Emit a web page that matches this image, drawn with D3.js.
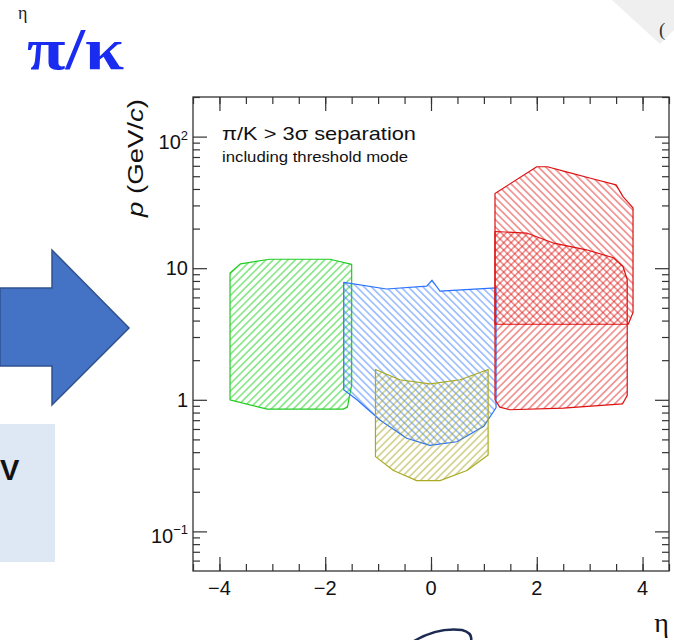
<!DOCTYPE html>
<html lang="en">
<head>
<meta charset="UTF-8">
<title>pi/K separation</title>
<script src="https://d3js.org/d3.v7.min.js"></script>
<style>
    body { margin: 0; background: #fff; }
    svg { display: block; font-family: "Liberation Sans", Arial, sans-serif; }
</style>
</head>
<body>
<svg id="chart" width="674" height="640"></svg>
<script>
    // regions: [eta, p (GeV/c)]
    const greenRegion = [[-3.80, 9.2], [-3.60, 10.8], [-3.05, 11.7], [-1.91, 11.7], [-1.50, 10.7],
        [-1.50, 1.3], [-1.58, 0.88], [-1.66, 0.85], [-3.10, 0.85], [-3.80, 1.0]];
    const blueRegion = [[-1.65, 7.8], [-0.84, 6.95], [-0.08, 7.3], [0.02, 8.1], [0.17, 6.7], [1.23, 7.1],
        [1.23, 0.87], [1.0, 0.63], [0.49, 0.48], [-0.02, 0.45], [-0.46, 0.51], [-0.96, 0.70],
        [-1.40, 1.0], [-1.65, 1.19]];
    const oliveRegion = [[-1.05, 1.7], [-0.59, 1.42], [-0.02, 1.32], [0.55, 1.42], [1.08, 1.7],
        [1.08, 0.38], [0.68, 0.29], [0.17, 0.243], [-0.27, 0.243], [-0.71, 0.29], [-1.05, 0.37]];
    const redLowRegion = [[1.21, 19.0], [1.81, 18.5], [2.30, 15.6], [2.94, 13.8], [3.45, 12.0],
        [3.63, 10.3], [3.71, 8.2], [3.71, 1.08], [3.62, 0.93], [2.50, 0.865], [1.49, 0.84],
        [1.30, 0.88], [1.21, 1.0]];
    const redHighRegion = [[1.21, 37], [2.0, 59], [2.2, 59], [2.56, 54], [3.0, 48.5], [3.5, 43],
        [3.63, 35], [3.82, 28.7], [3.82, 4.6], [3.73, 3.75], [1.21, 3.75]];

    const xMajor = [-4, -2, 0, 2, 4];
    const xMinor = d3.range(-4.5, 4.51, 0.5);
    const yMajor = [0.1, 1, 10, 100];
    const yLabels = [["10", "\u22121"], ["1", ""], ["10", ""], ["10", "2"]];
    const yMinor = [0.06, 0.07, 0.08, 0.09, 0.2, 0.3, 0.4, 0.5, 0.6, 0.7, 0.8, 0.9,
        2, 3, 4, 5, 6, 7, 8, 9, 20, 30, 40, 50, 60, 70, 80, 90, 200];

    const plotLeft = 193, plotRight = 669, plotTop = 97, plotBottom = 571;
    const x = d3.scaleLinear().domain([-4.5, 4.5]).range([plotLeft, plotRight]);
    const y = d3.scaleLog().domain([0.05, 200]).range([plotBottom, plotTop]);

    const svg = d3.select("#chart");
    svg.append("rect").attr("width", 674).attr("height", 640).attr("fill", "#fff");

    // --- slide decorations around the plot ---
    svg.append("polygon").attr("points", "612,0 660,44 674,30 674,0").attr("fill", "#efefef");
    svg.append("text").attr("x", 659).attr("y", 36).attr("font-size", 19).attr("fill", "#333")
       .attr("font-family", "Liberation Serif").text("(");
    svg.append("text").attr("x", 18).attr("y", 19).attr("font-size", 18).attr("fill", "#222")
       .attr("font-family", "Liberation Serif").text("\u03b7");
    svg.append("text").attr("x", 27).attr("y", 69).attr("font-size", 60).attr("font-weight", "bold")
       .attr("fill", "#1a2cf0").attr("font-family", "Liberation Serif")
       .attr("textLength", 97).attr("lengthAdjust", "spacingAndGlyphs").text("\u03c0/\u03ba");

    svg.append("polygon")
       .attr("points", "0,288 52,288 52,250 129,328 52,405 52,366 0,366")
       .attr("fill", "#4472c4").attr("stroke", "#2f528f").attr("stroke-width", 1.5);
    svg.append("rect").attr("x", 0).attr("y", 424).attr("width", 55).attr("height", 138).attr("fill", "#dee8f4");
    svg.append("text").attr("x", 0).attr("y", 480).attr("font-size", 29)
       .attr("font-weight", "bold").attr("fill", "#111").text("V");

    svg.append("path").attr("d", "M414,641 Q438,627 462,630 Q473,633 471,641")
       .attr("fill", "none").attr("stroke", "#1c2b4f").attr("stroke-width", 2.5);

    // --- hatch patterns ---
    const defs = svg.append("defs");
    function hatch(id, color, angle) {
        const p = defs.append("pattern").attr("id", id)
            .attr("patternUnits", "userSpaceOnUse").attr("width", 5.2).attr("height", 5.2)
            .attr("patternTransform", `rotate(${angle})`);
        p.append("line").attr("x1", 2.6).attr("y1", 0).attr("x2", 2.6).attr("y2", 5.2)
            .attr("stroke", color).attr("stroke-width", 1.1).attr("stroke-opacity", 0.7);
    }
    hatch("hGreen", "#00cc00", 45);
    hatch("hBlue", "#2a72ff", -45);
    hatch("hOlive", "#9e9e10", 45);
    hatch("hRedLow", "#e01010", 45);
    hatch("hRedHigh", "#e01010", -45);

    const area = d3.line().x(d => x(d[0])).y(d => y(d[1])).curve(d3.curveLinearClosed);
    const regions = [
        { pts: greenRegion, fill: "hGreen", stroke: "#22cc22" },
        { pts: blueRegion, fill: "hBlue", stroke: "#2a72ff" },
        { pts: oliveRegion, fill: "hOlive", stroke: "#aaaa22" },
        { pts: redLowRegion, fill: "hRedLow", stroke: "#dd1111" },
        { pts: redHighRegion, fill: "hRedHigh", stroke: "#dd1111" }
    ];
    svg.append("g").selectAll("path").data(regions).join("path")
       .attr("d", d => area(d.pts))
       .attr("fill", d => `url(#${d.fill})`)
       .attr("stroke", d => d.stroke).attr("stroke-width", 1.2).attr("stroke-linejoin", "round");

    // --- frame and axes ---
    const axisColor = "#333";
    function styleAxis(g) {
        g.select(".domain").remove();
        g.selectAll("line").attr("stroke", axisColor).attr("stroke-width", 1.2);
        g.selectAll("text").remove();
    }
    svg.append("g").attr("transform", `translate(0,${plotBottom})`)
       .call(d3.axisBottom(x).tickValues(xMinor).tickSize(-7)).call(styleAxis);
    svg.append("g").attr("transform", `translate(0,${plotBottom})`)
       .call(d3.axisBottom(x).tickValues(xMajor).tickSize(-14)).call(styleAxis);
    svg.append("g").attr("transform", `translate(0,${plotTop})`)
       .call(d3.axisTop(x).tickValues(xMinor).tickSize(-7)).call(styleAxis);
    svg.append("g").attr("transform", `translate(0,${plotTop})`)
       .call(d3.axisTop(x).tickValues(xMajor).tickSize(-14)).call(styleAxis);
    svg.append("g").attr("transform", `translate(${plotLeft},0)`)
       .call(d3.axisLeft(y).tickValues(yMinor).tickSize(-7)).call(styleAxis);
    svg.append("g").attr("transform", `translate(${plotLeft},0)`)
       .call(d3.axisLeft(y).tickValues(yMajor).tickSize(-14)).call(styleAxis);
    svg.append("g").attr("transform", `translate(${plotRight},0)`)
       .call(d3.axisRight(y).tickValues(yMinor).tickSize(-7)).call(styleAxis);
    svg.append("g").attr("transform", `translate(${plotRight},0)`)
       .call(d3.axisRight(y).tickValues(yMajor).tickSize(-14)).call(styleAxis);

    svg.append("rect").attr("x", plotLeft).attr("y", plotTop)
       .attr("width", plotRight - plotLeft).attr("height", plotBottom - plotTop)
       .attr("fill", "none").attr("stroke", axisColor).attr("stroke-width", 1.3);

    // tick labels
    svg.append("g").selectAll("text").data(xMajor).join("text")
       .attr("x", d => x(d)).attr("y", plotBottom + 24).attr("text-anchor", "middle")
       .attr("font-size", 20).attr("fill", "#111")
       .text(d => d < 0 ? "\u2212" + Math.abs(d) : d);

    const yl = svg.append("g").selectAll("text").data(yMajor).join("text")
       .attr("x", 188).attr("text-anchor", "end")
       .attr("y", (d, i) => y(d) + (yLabels[i][1] ? 12 : 7))
       .attr("font-size", 20).attr("fill", "#111");
    yl.append("tspan").text((d, i) => yLabels[i][0]);
    yl.append("tspan").attr("font-size", 13).attr("dy", -9).text((d, i) => yLabels[i][1]);

    // axis titles
    const yt = svg.append("text").attr("transform", "translate(143,99) rotate(-90)")
       .attr("text-anchor", "end").attr("font-size", 22).attr("fill", "#111")
       .attr("textLength", 118).attr("lengthAdjust", "spacingAndGlyphs");
    yt.append("tspan").attr("font-style", "italic").text("p");
    yt.append("tspan").text(" (GeV/");
    yt.append("tspan").attr("font-style", "italic").text("c");
    yt.append("tspan").text(")");

    svg.append("text").attr("x", 669).attr("y", 632).attr("text-anchor", "end")
       .attr("font-size", 28).attr("font-family", "Liberation Serif").attr("fill", "#111").text("\u03b7");

    // legend text
    svg.append("text").attr("x", 222).attr("y", 140).attr("font-size", 19).attr("fill", "#111")
       .attr("textLength", 194).attr("lengthAdjust", "spacingAndGlyphs")
       .text("\u03c0/K > 3\u03c3 separation");
    svg.append("text").attr("x", 222).attr("y", 162).attr("font-size", 14).attr("fill", "#111")
       .attr("textLength", 186).attr("lengthAdjust", "spacingAndGlyphs")
       .text("including threshold mode");
</script>
</body>
</html>
